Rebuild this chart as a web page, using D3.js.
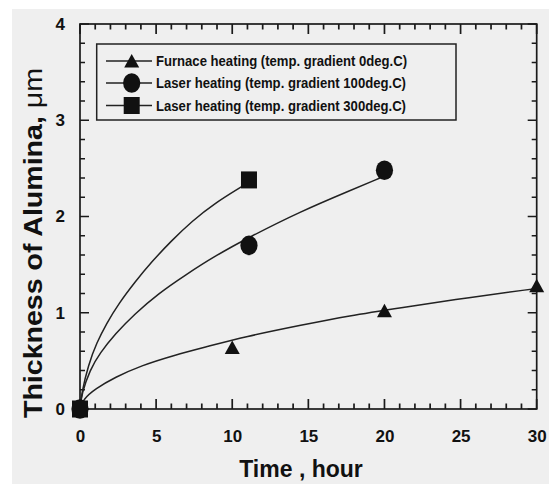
<!DOCTYPE html>
<html>
<head>
<meta charset="utf-8">
<script src="https://cdn.jsdelivr.net/npm/d3@7"></script>
<style>
  body { margin: 0; background: #fff; }
  svg text { font-family: "Liberation Sans", Arial, sans-serif; font-weight: bold; fill: #111; }
</style>
</head>
<body>
<svg width="549" height="484"></svg>
<script>

// measured points (time in hours, thickness in um)
var furnaceTime = [0, 10, 20, 30],
    furnaceThick = [0, 0.64, 1.02, 1.28];
var laser100Time = [0, 11.1, 20.0],
    laser100Thick = [0, 1.70, 2.48];
var laser300Time = [0, 11.1],
    laser300Thick = [0, 2.38];

// fitted curves
var furnaceCurveTime = [0, 0.2, 1, 2.3, 4, 6.2, 8.4, 10.8, 14.5, 17.7, 21, 25.6, 29.9],
    furnaceCurveThick = [0, 0.1, 0.21, 0.33, 0.45, 0.56, 0.65, 0.75, 0.87, 0.97, 1.05, 1.16, 1.25];
var laser100CurveTime = [0, 0.11, 0.66, 1.31, 2.3, 3.61, 5.15, 6.9, 8.87, 11.17, 14.45, 17.74, 19.7],
    laser100CurveThick = [0, 0.16, 0.41, 0.58, 0.78, 0.99, 1.2, 1.39, 1.59, 1.79, 2.05, 2.27, 2.40];
var laser300CurveTime = [0, 0.11, 0.55, 1.1, 1.75, 2.52, 3.61, 4.71, 6.02, 7.34, 8.87, 10.62],
    laser300CurveThick = [0, 0.17, 0.46, 0.69, 0.89, 1.09, 1.32, 1.53, 1.75, 1.95, 2.14, 2.31];

var legendLabels = [
    "Furnace heating (temp. gradient 0deg.C)",
    "Laser heating (temp. gradient 100deg.C)",
    "Laser heating (temp. gradient 300deg.C)"
];
var xTicks = [0, 5, 10, 15, 20, 25, 30],
    yTicks = [0, 1, 2, 3, 4];

var margin = { top: 24, right: 12.3, bottom: 75, left: 80 },
    W = 549, H = 484;

var svg = d3.select("svg");

// paper background
svg.append("rect").attr("width", W).attr("height", H).attr("fill", "#fff");
svg.append("rect").attr("x", 12).attr("y", 9).attr("width", W - 12).attr("height", H - 9).attr("fill", "#efefef");

var x = d3.scaleLinear().domain([0, 30]).range([margin.left, W - margin.right]);
var y = d3.scaleLinear().domain([0, 4]).range([H - margin.bottom, margin.top]);

function zip(a, b) { return a.map(function (v, i) { return [v, b[i]]; }); }

// tick labels from the axes, tick marks drawn below
function styleAxis(g) {
    g.select(".domain").remove();
    g.selectAll(".tick line").remove();
    g.selectAll("text").attr("font-size", 17).attr("font-family", null);
}

svg.append("g").attr("transform", "translate(0," + y(0) + ")")
    .call(d3.axisBottom(x).tickValues(xTicks).tickSize(0).tickPadding(21).tickFormat(d3.format("d")))
    .call(styleAxis);
svg.append("g").attr("transform", "translate(" + x(0) + ",0)")
    .call(d3.axisLeft(y).tickValues(yTicks).tickSize(0).tickPadding(15).tickFormat(d3.format("d")))
    .call(styleAxis);

// inward ticks on all four sides
var xMinor = d3.range(0, 31, 1),
    yMinor = d3.range(0, 21, 1).map(function (i) { return i / 5; });

function xLen(d) { return d % 5 === 0 ? 10 : 5.5; }
function yLen(d) { return Math.abs(d - Math.round(d)) < 1e-6 ? 9 : 5; }

var tickPath = d3.path();
xMinor.forEach(function (d) {
    tickPath.moveTo(x(d), y(0)); tickPath.lineTo(x(d), y(0) - xLen(d));
    tickPath.moveTo(x(d), y(4)); tickPath.lineTo(x(d), y(4) + xLen(d));
});
yMinor.forEach(function (d) {
    tickPath.moveTo(x(0), y(d)); tickPath.lineTo(x(0) + yLen(d), y(d));
    tickPath.moveTo(x(30), y(d)); tickPath.lineTo(x(30) - yLen(d), y(d));
});
svg.append("path")
    .attr("d", tickPath.toString())
    .attr("fill", "none")
    .attr("stroke", "#1a1a1a")
    .attr("stroke-width", 1.7);

// frame
svg.append("rect")
    .attr("x", x(0)).attr("y", y(4))
    .attr("width", x(30) - x(0)).attr("height", y(0) - y(4))
    .attr("fill", "none").attr("stroke", "#1a1a1a").attr("stroke-width", 1.7);

// axis titles
svg.append("text")
    .attr("x", 301).attr("y", 477)
    .attr("text-anchor", "middle")
    .attr("font-size", 23)
    .text("Time , hour");

var ylab = svg.append("text")
    .attr("transform", "translate(42,243) rotate(-90)")
    .attr("text-anchor", "middle")
    .attr("font-size", 26)
    .attr("textLength", 350)
    .attr("lengthAdjust", "spacingAndGlyphs");
ylab.append("tspan").text("Thickness of Alumina, ");
ylab.append("tspan").attr("font-weight", "normal").text("\u03bcm");

// fitted curves
var line = d3.line()
    .x(function (d) { return x(d[0]); })
    .y(function (d) { return y(d[1]); })
    .curve(d3.curveBasis);

[zip(furnaceCurveTime, furnaceCurveThick),
 zip(laser100CurveTime, laser100CurveThick),
 zip(laser300CurveTime, laser300CurveThick)].forEach(function (pts) {
    svg.append("path")
        .attr("d", line(pts))
        .attr("fill", "none")
        .attr("stroke", "#222")
        .attr("stroke-width", 1.5);
});

// markers
function triangle(g, cx, cy) {
    g.append("path")
        .attr("d", "M" + cx + "," + (cy - 7) + "L" + (cx + 7.5) + "," + (cy + 6.5) + "L" + (cx - 7.5) + "," + (cy + 6.5) + "Z")
        .attr("fill", "#111");
}
function circle(g, cx, cy) {
    g.append("ellipse").attr("cx", cx).attr("cy", cy).attr("rx", 8.6).attr("ry", 9.8).attr("fill", "#111");
}
function square(g, cx, cy) {
    g.append("rect").attr("x", cx - 8).attr("y", cy - 8.5).attr("width", 16).attr("height", 17).attr("fill", "#111");
}

var marks = svg.append("g");
zip(furnaceTime, furnaceThick).forEach(function (d) { triangle(marks, x(d[0]), y(d[1])); });
zip(laser100Time, laser100Thick).forEach(function (d) { circle(marks, x(d[0]), y(d[1])); });
zip(laser300Time, laser300Thick).forEach(function (d) { square(marks, x(d[0]), y(d[1])); });

// legend
var legend = svg.append("g");
legend.append("rect")
    .attr("x", 96.7).attr("y", 44)
    .attr("width", 359.3).attr("height", 76)
    .attr("fill", "none").attr("stroke", "#222").attr("stroke-width", 1.5);

var rowY = [61, 83, 105.5],
    drawers = [triangle, circle, square];

legendLabels.forEach(function (lab, i) {
    legend.append("line")
        .attr("x1", 106).attr("x2", 152)
        .attr("y1", rowY[i]).attr("y2", rowY[i])
        .attr("stroke", "#222").attr("stroke-width", 1.5);
    drawers[i](legend, 131.7, rowY[i]);
    legend.append("text")
        .attr("x", 156).attr("y", rowY[i] + 5)
        .attr("font-size", 14)
        .attr("textLength", i === 0 ? 251 : 250)
        .attr("lengthAdjust", "spacingAndGlyphs")
        .text(lab);
});

</script>
</body>
</html>
